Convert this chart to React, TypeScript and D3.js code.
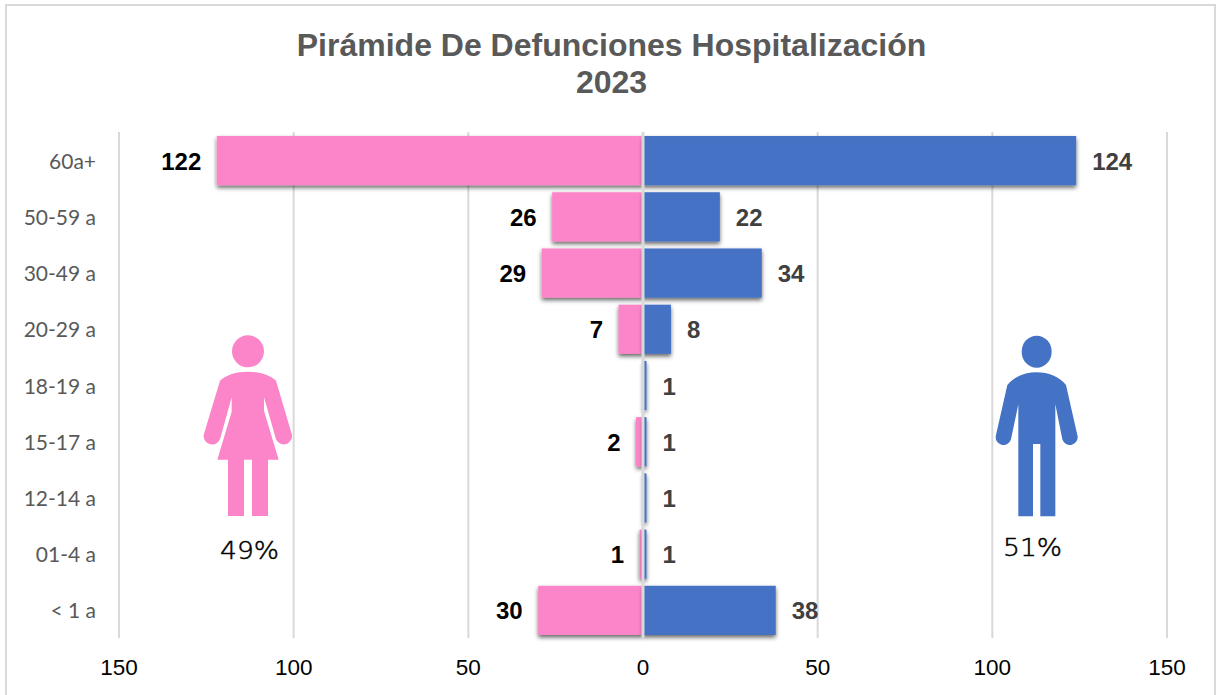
import React from "react";
import * as d3 from "d3";

const categories = ["60a+", "50-59 a", "30-49 a", "20-29 a", "18-19 a", "15-17 a", "12-14 a", "01-4 a", "< 1 a"];
const femaleValues = [122, 26, 29, 7, 0, 2, 0, 1, 30];
const maleValues = [124, 22, 34, 8, 1, 1, 1, 1, 38];
const xTicks = [-150, -100, -50, 0, 50, 100, 150];
const titleLines = ["Pirámide De Defunciones Hospitalización", "2023"];
const femaleShare = "49%";
const maleShare = "51%";

const PINK = "#FB85C8";
const BLUE = "#4472C4";
const GRID = "#D9D9D9";

const W = 1216;
const H = 695;

const x = d3.scaleLinear().domain([-150, 150]).range([119, 1167]);
const y = d3.scaleBand<string>().domain(categories).range([132.5, 638.5]).paddingInner(0.125).paddingOuter(0.0625);

const WOMAN =
  "M204 155 C240 155 270 165 288 182 L334 338 A24 24 0 0 1 288 358 L252 232 L252 272 L296 419 L264 419 L264 588 L216 588 L216 419 L192 419 L192 588 L144 588 L144 419 L112 419 L155 275 L155 232 L120 358 A24 24 0 0 1 73 338 L120 182 C138 165 168 155 204 155 Z";
const MAN =
  "M170 157 C205 157 238 170 258 195 L292 345 A23 23 0 0 1 247 358 L226 253 L226 589 L181 589 L181 372 L159 372 L159 589 L115 589 L115 253 L93 358 A23 23 0 0 1 48 345 L82 195 C102 170 135 157 170 157 Z";

export default function App() {
  const bh = y.bandwidth();
  return (
    <svg
      width={W}
      height={H}
      viewBox={`0 0 ${W} ${H}`}
      style={{ position: "absolute", left: 0, top: 0, background: "#fff" }}
    >
      <defs>
        <filter id="barShadow" x="-10%" y="-10%" width="120%" height="130%">
          <feDropShadow dx="0" dy="2.5" stdDeviation="2" floodColor="#000" floodOpacity="0.6" />
        </filter>
      </defs>

      <rect x={6} y={5} width={1209} height={700} fill="#fff" stroke={GRID} strokeWidth={2} />

      <g fontFamily="'Liberation Sans', Arial, sans-serif" fontWeight={700} fontSize={32} fill="#595959" textAnchor="middle">
        {titleLines.map((t, i) => (
          <text key={t} x={611.5} y={56 + i * 37}>{t}</text>
        ))}
      </g>

      <g>
        {xTicks.filter((t) => t !== 0).map((t) => (
          <line key={t} x1={x(t)} x2={x(t)} y1={132} y2={638} stroke={GRID} strokeWidth={2} />
        ))}
      </g>

      <g filter="url(#barShadow)">
        {categories.map((c, i) =>
          femaleValues[i] > 0 ? (
            <rect key={c} x={x(-femaleValues[i])} y={y(c)} width={x(0) - x(-femaleValues[i])} height={bh} fill={PINK} />
          ) : null
        )}
      </g>
      <g filter="url(#barShadow)">
        {categories.map((c, i) =>
          maleValues[i] > 0 ? (
            <rect key={c} x={x(0)} y={y(c)} width={x(maleValues[i]) - x(0)} height={bh} fill={BLUE} />
          ) : null
        )}
      </g>

      <line x1={x(0)} x2={x(0)} y1={132} y2={638} stroke={GRID} strokeWidth={3} />

      <g fontFamily="Lato, sans-serif" fontSize={21} fill="#595959" textAnchor="end">
        {categories.map((c) => (
          <text key={c} x={96} y={y(c)! + bh / 2 + 8}>{c}</text>
        ))}
      </g>

      <g fontFamily="'Liberation Sans', Arial, sans-serif" fontWeight={700} fontSize={24}>
        {categories.map((c, i) =>
          femaleValues[i] > 0 ? (
            <text key={c} x={x(-femaleValues[i]) - 15.5} y={y(c)! + bh / 2 + 9} textAnchor="end" fill="#000">
              {femaleValues[i]}
            </text>
          ) : null
        )}
        {categories.map((c, i) =>
          maleValues[i] > 0 ? (
            <text key={c} x={x(maleValues[i]) + 16} y={y(c)! + bh / 2 + 9} textAnchor="start" fill="#404040">
              {maleValues[i]}
            </text>
          ) : null
        )}
      </g>

      <g fontFamily="'Liberation Sans', Arial, sans-serif" fontSize={22.5} fill="#000" textAnchor="middle">
        {xTicks.map((t) => (
          <text key={t} x={x(t)} y={675}>{Math.abs(t)}</text>
        ))}
      </g>

      <g transform="translate(180,320) scale(0.33333)" fill={PINK}>
        <circle cx={204} cy={94} r={48} />
        <path d={WOMAN} />
      </g>
      <g transform="translate(980,320) scale(0.33333)" fill={BLUE}>
        <ellipse cx={170} cy={95} rx={45} ry={48} />
        <path d={MAN} />
      </g>

      <g fontFamily="'DejaVu Sans', sans-serif" fontWeight={200} fontSize={25} fill="#000" stroke="#000" strokeWidth={0.5}>
        <text x={220} y={559} textLength={59} lengthAdjust="spacingAndGlyphs">{femaleShare}</text>
        <text x={1003} y={556} textLength={59} lengthAdjust="spacingAndGlyphs">{maleShare}</text>
      </g>
    </svg>
  );
}
